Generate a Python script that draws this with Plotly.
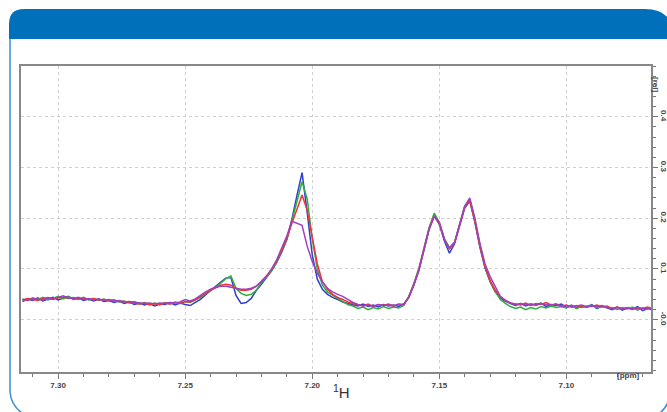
import plotly.graph_objects as go

# chemical shift sample positions (ppm)
ppm = [7.314,7.312,7.310,7.308,7.306,7.304,7.302,7.300,7.298,7.296,
       7.294,7.292,7.290,7.288,7.286,7.284,7.282,7.280,7.278,7.276,
       7.274,7.272,7.270,7.268,7.266,7.264,7.262,7.260,7.258,7.256,
       7.254,7.252,7.250,7.248,7.246,7.244,7.242,7.240,7.238,7.236,
       7.234,7.232,7.230,7.228,7.226,7.224,7.222,7.220,7.218,7.216,
       7.214,7.212,7.210,7.208,7.206,7.204,7.202,7.200,7.198,7.196,
       7.194,7.192,7.190,7.188,7.186,7.184,7.182,7.180,7.178,7.176,
       7.174,7.172,7.170,7.168,7.166,7.164,7.162,7.160,7.158,7.156,
       7.154,7.152,7.150,7.148,7.146,7.144,7.142,7.140,7.138,7.136,
       7.134,7.132,7.130,7.128,7.126,7.124,7.122,7.120,7.118,7.116,
       7.114,7.112,7.110,7.108,7.106,7.104,7.102,7.100,7.098,7.096,
       7.094,7.092,7.090,7.088,7.086,7.084,7.082,7.080,7.078,7.076,
       7.074,7.072,7.070,7.068,7.066]

blue = [0.036,0.041,0.038,0.043,0.037,0.040,0.044,0.039,0.042,0.046,0.040,0.043,0.038,0.041,0.037,0.041,0.036,0.038,0.034,0.037,0.032,0.035,0.030,0.033,0.029,0.032,0.027,0.031,0.030,0.034,0.029,0.033,0.030,0.028,0.034,
        0.040,0.049,0.058,0.066,0.074,0.082,0.083,0.048,0.032,0.034,0.042,0.058,0.070,0.083,0.097,0.113,0.133,0.158,0.198,0.245,0.290,0.212,0.128,0.080,0.060,0.050,0.044,0.040,0.035,0.032,0.030,
        0.027,0.031,0.026,0.029,0.025,0.030,0.027,0.029,0.026,0.031,
        0.044,0.070,0.098,0.138,0.178,0.204,0.188,0.155,0.131,0.150,0.186,0.220,0.234,0.192,0.142,0.102,0.075,0.055,0.043,0.036,0.032,
        0.028,0.032,0.027,0.031,0.029,0.033,0.026,0.030,0.028,
        0.031,0.024,0.029,0.023,0.027,0.025,0.030,0.022,0.027,0.024,
        0.020,0.025,0.019,0.023,0.021,0.026,0.018,0.022,0.020]

green = [0.041,0.038,0.043,0.040,0.044,0.039,0.042,0.046,0.041,0.045,0.042,0.040,0.044,0.039,0.042,0.038,0.041,0.037,0.039,0.035,0.037,0.033,0.036,0.031,0.034,0.030,0.033,0.029,0.034,0.031,0.035,0.032,0.036,0.034,0.039,
         0.044,0.051,0.057,0.064,0.072,0.081,0.086,0.062,0.052,0.048,0.050,0.058,0.073,0.084,0.096,0.113,0.134,0.158,0.195,0.235,0.272,0.238,0.160,0.100,0.068,0.055,0.048,0.042,0.036,0.030,0.027,
         0.022,0.025,0.020,0.024,0.021,0.026,0.022,0.025,0.023,0.028,
         0.046,0.072,0.102,0.142,0.182,0.210,0.192,0.160,0.142,0.153,0.190,0.224,0.236,0.196,0.146,0.104,0.076,0.056,0.040,0.032,0.026,
         0.022,0.025,0.020,0.024,0.021,0.026,0.023,0.027,0.024,
         0.026,0.023,0.028,0.022,0.027,0.024,0.029,0.023,0.026,0.025,
         0.023,0.020,0.024,0.021,0.025,0.019,0.023,0.021,0.024]

red = [0.039,0.042,0.040,0.038,0.042,0.044,0.041,0.043,0.045,0.042,0.044,0.041,0.043,0.040,0.042,0.039,0.040,0.038,0.039,0.036,0.036,0.034,0.033,0.031,0.033,0.029,0.032,0.030,0.033,0.031,0.034,0.032,0.036,0.035,0.039,
       0.046,0.052,0.058,0.063,0.068,0.070,0.068,0.062,0.058,0.058,0.060,0.066,0.076,0.086,0.099,0.116,0.136,0.160,0.190,0.220,0.246,0.216,0.165,0.110,0.075,0.060,0.050,0.044,0.040,0.035,0.032,
       0.029,0.027,0.031,0.026,0.030,0.028,0.031,0.027,0.030,0.029,
       0.045,0.069,0.100,0.140,0.180,0.205,0.190,0.158,0.140,0.152,0.188,0.222,0.236,0.195,0.145,0.105,0.077,0.058,0.045,0.038,0.033,
       0.031,0.029,0.033,0.028,0.032,0.030,0.034,0.029,0.031,
       0.027,0.029,0.025,0.028,0.024,0.027,0.026,0.029,0.025,0.027,
       0.022,0.025,0.021,0.024,0.020,0.023,0.022,0.025,0.021]

purple = [0.040,0.038,0.042,0.041,0.039,0.043,0.040,0.044,0.047,0.043,0.042,0.044,0.040,0.042,0.039,0.041,0.038,0.040,0.037,0.038,0.035,0.036,0.034,0.033,0.032,0.033,0.031,0.033,0.032,0.034,0.033,0.035,0.040,0.037,0.041,
          0.048,0.055,0.060,0.064,0.066,0.066,0.064,0.062,0.060,0.060,0.062,0.066,0.075,0.086,0.100,0.118,0.140,0.165,0.194,0.190,0.186,0.145,0.115,0.092,0.075,0.062,0.055,0.050,0.046,0.040,0.034,
          0.030,0.027,0.029,0.026,0.030,0.028,0.029,0.027,0.031,0.030,
          0.044,0.068,0.098,0.140,0.180,0.204,0.192,0.158,0.140,0.152,0.188,0.224,0.240,0.200,0.150,0.110,0.085,0.065,0.046,0.038,0.033,
          0.030,0.032,0.029,0.031,0.028,0.032,0.030,0.029,0.031,
          0.026,0.028,0.025,0.027,0.029,0.025,0.027,0.026,0.028,0.024,
          0.022,0.024,0.021,0.023,0.021,0.024,0.022,0.023,0.021]

x_ticks = [7.30, 7.25, 7.20, 7.15, 7.10]
x_tick_labels = ["7.30", "7.25", "7.20", "7.15", "7.10"]
y_ticks = [0.0, 0.1, 0.2, 0.3, 0.4]
y_tick_labels = ["-0.0", "0.1", "0.2", "0.3", "0.4"]

series = [("blue", blue, "#2f3fd0"), ("green", green, "#2fae3c"),
          ("red", red, "#f03434"), ("purple", purple, "#a040c0")]

fig = go.Figure()
for name, vals, col in series:
    fig.add_trace(go.Scatter(x=ppm, y=vals, mode="lines", name=name,
                             line=dict(color=col, width=1.5), showlegend=False))

W, H = 667, 412
L, R, T, B = 21, 16, 66, 40
PW, PH = W - L - R, H - T - B

def px(x):
    return (x - L) / PW

def py(y):
    return (H - B - y) / PH

def path(cmds):
    out = []
    for c in cmds:
        if isinstance(c, str):
            out.append(c)
        else:
            out.append(f"{px(c[0]):.5f},{py(c[1]):.5f}")
    return " ".join(out)

header = path(["M", (9, 39), "L", (9, 24), "Q", (9, 9), (24, 9), "L", (645, 9),
               "Q", (667, 9), (672, 26), "L", (672, 39), "Z"])
left_border = path(["M", (10, 39), "L", (10, 392), "Q", (11, 405), (22, 413)])
right_corner = path(["M", (669, 398), "Q", (668, 406), (660, 413)])

axis_font = dict(family="Liberation Sans, Arial, sans-serif", size=8, color="#444444",
                 weight="bold")

fig.update_layout(
    width=W, height=H,
    margin=dict(l=L, r=R, t=T, b=B, autoexpand=False),
    paper_bgcolor="white", plot_bgcolor="white",
    xaxis=dict(range=[7.3146, 7.0667], tickvals=x_ticks, ticktext=x_tick_labels,
               automargin=False,
               ticks="outside", ticklen=5, tickcolor="#777777", tickwidth=1,
               minor=dict(dtick=0.01, tick0=7.30, ticks="outside", ticklen=3,
                          tickcolor="#777777", tickwidth=1, showgrid=False),
               showline=True, linecolor="#888888", linewidth=1.5, mirror=True,
               showgrid=True, gridcolor="#d0d0d0", griddash="dot", gridwidth=1,
               zeroline=False, tickfont=axis_font),
    yaxis=dict(range=[-0.103, 0.5], side="right", tickvals=y_ticks, ticktext=y_tick_labels,
               automargin=False,
               tickangle=90, ticks="outside", ticklen=5, tickcolor="#777777",
               minor=dict(dtick=0.02, tick0=0, ticks="outside", ticklen=3,
                          tickcolor="#777777", tickwidth=1, showgrid=False),
               showline=True, linecolor="#888888", linewidth=1.5, mirror=True,
               showgrid=True, gridcolor="#d0d0d0", griddash="dot", gridwidth=1,
               zeroline=False, tickfont=axis_font),
    shapes=[
        dict(type="path", xref="paper", yref="paper", path=header,
             fillcolor="#0070ba", line=dict(width=0), layer="above"),
        dict(type="path", xref="paper", yref="paper", path=left_border,
             line=dict(color="#3b8fd6", width=1.5)),
        dict(type="path", xref="paper", yref="paper", path=right_corner,
             line=dict(color="#3b8fd6", width=1.5)),
    ],
    annotations=[
        dict(text="[rel]", xref="paper", yref="paper", x=px(662), y=py(75),
             showarrow=False, textangle=90, font=axis_font),
        dict(text="[ppm]", xref="paper", yref="paper", x=px(642), y=py(382),
             showarrow=False, font=axis_font),
        dict(text="<sup>1</sup>H", xref="paper", yref="paper", x=px(341), y=py(403),
             showarrow=False, font=dict(family="Liberation Sans, Arial, sans-serif",
                                        size=15, color="#333333")),
    ],
)

fig.write_html("out.html", config={"displayModeBar": False},
               post_script="document.body.style.margin='0';document.body.style.overflow='hidden';")
